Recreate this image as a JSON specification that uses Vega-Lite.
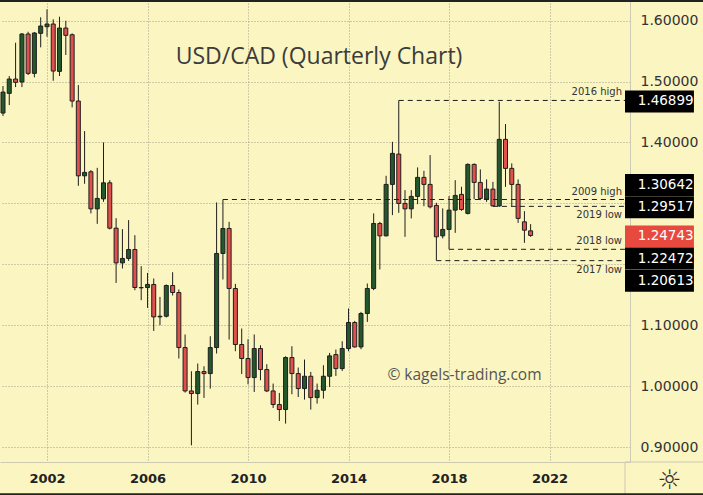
{
  "$schema": "https://vega.github.io/schema/vega-lite/v6.json",
  "width": 630,
  "height": 462,
  "autosize": {"type": "none"},
  "padding": {"left": 0, "top": 0, "right": 73, "bottom": 33},
  "background": "#fbf5c1",
  "config": {
    "view": {"stroke": null},
    "axis": {"grid": true, "gridColor": "#a39f8a", "gridDash": [1, 2], "gridWidth": 1, "ticks": false, "domainColor": "#cdc9b3", "domainWidth": 1},
    "text": {"font": "DejaVu Sans"}
  },
  "datasets": {
    "candles": [
      {"d": "2000-04-01", "o": 1.4483, "h": 1.4926, "l": 1.4434, "c": 1.4827},
      {"d": "2000-07-01", "o": 1.4806, "h": 1.5090, "l": 1.4614, "c": 1.5041},
      {"d": "2000-10-01", "o": 1.5041, "h": 1.5637, "l": 1.4909, "c": 1.4987},
      {"d": "2001-01-01", "o": 1.4992, "h": 1.5796, "l": 1.4909, "c": 1.5780},
      {"d": "2001-04-01", "o": 1.5780, "h": 1.5817, "l": 1.5107, "c": 1.5134},
      {"d": "2001-07-01", "o": 1.5134, "h": 1.5813, "l": 1.5069, "c": 1.5796},
      {"d": "2001-10-01", "o": 1.5791, "h": 1.6054, "l": 1.5561, "c": 1.5911},
      {"d": "2002-01-01", "o": 1.5900, "h": 1.6185, "l": 1.5735, "c": 1.5944},
      {"d": "2002-04-01", "o": 1.5944, "h": 1.6021, "l": 1.5013, "c": 1.5172},
      {"d": "2002-07-01", "o": 1.5167, "h": 1.6064, "l": 1.5090, "c": 1.5878},
      {"d": "2002-10-01", "o": 1.5878, "h": 1.5998, "l": 1.5435, "c": 1.5758},
      {"d": "2003-01-01", "o": 1.5768, "h": 1.5791, "l": 1.4576, "c": 1.4680},
      {"d": "2003-04-01", "o": 1.4680, "h": 1.4942, "l": 1.3289, "c": 1.3453},
      {"d": "2003-07-01", "o": 1.3453, "h": 1.4187, "l": 1.3322, "c": 1.3509},
      {"d": "2003-10-01", "o": 1.3519, "h": 1.3547, "l": 1.2836, "c": 1.2911},
      {"d": "2004-01-01", "o": 1.2911, "h": 1.3584, "l": 1.2665, "c": 1.3082},
      {"d": "2004-04-01", "o": 1.3075, "h": 1.4001, "l": 1.3026, "c": 1.3338},
      {"d": "2004-07-01", "o": 1.3338, "h": 1.3382, "l": 1.2573, "c": 1.2594},
      {"d": "2004-10-01", "o": 1.2594, "h": 1.2758, "l": 1.1696, "c": 1.2024},
      {"d": "2005-01-01", "o": 1.2024, "h": 1.2578, "l": 1.1932, "c": 1.2097},
      {"d": "2005-04-01", "o": 1.2097, "h": 1.2726, "l": 1.2057, "c": 1.2244},
      {"d": "2005-07-01", "o": 1.2244, "h": 1.2479, "l": 1.1576, "c": 1.1620},
      {"d": "2005-10-01", "o": 1.1620, "h": 1.1970, "l": 1.1412, "c": 1.1615},
      {"d": "2006-01-01", "o": 1.1620, "h": 1.1860, "l": 1.1286, "c": 1.1670},
      {"d": "2006-04-01", "o": 1.1670, "h": 1.1768, "l": 1.0908, "c": 1.1138},
      {"d": "2006-07-01", "o": 1.1138, "h": 1.1466, "l": 1.1001, "c": 1.1149},
      {"d": "2006-10-01", "o": 1.1149, "h": 1.1670, "l": 1.1128, "c": 1.1653},
      {"d": "2007-01-01", "o": 1.1653, "h": 1.1871, "l": 1.1489, "c": 1.1538},
      {"d": "2007-04-01", "o": 1.1538, "h": 1.1588, "l": 1.0455, "c": 1.0635},
      {"d": "2007-07-01", "o": 1.0635, "h": 1.0849, "l": 0.9896, "c": 0.9923},
      {"d": "2007-10-01", "o": 0.9923, "h": 1.0246, "l": 0.9031, "c": 0.9880},
      {"d": "2008-01-01", "o": 0.9880, "h": 1.0373, "l": 0.9699, "c": 1.0241},
      {"d": "2008-04-01", "o": 1.0241, "h": 1.0328, "l": 0.9808, "c": 1.0208},
      {"d": "2008-07-01", "o": 1.0208, "h": 1.0821, "l": 0.9962, "c": 1.0635},
      {"d": "2008-10-01", "o": 1.0635, "h": 1.3016, "l": 1.0537, "c": 1.2179},
      {"d": "2009-01-01", "o": 1.2179, "h": 1.30642, "l": 1.1752, "c": 1.2589},
      {"d": "2009-04-01", "o": 1.2589, "h": 1.2698, "l": 1.0766, "c": 1.1604},
      {"d": "2009-07-01", "o": 1.1604, "h": 1.1680, "l": 1.0575, "c": 1.0685},
      {"d": "2009-10-01", "o": 1.0685, "h": 1.0947, "l": 1.0200, "c": 1.0455},
      {"d": "2010-01-01", "o": 1.0455, "h": 1.0771, "l": 1.0033, "c": 1.0143},
      {"d": "2010-04-01", "o": 1.0143, "h": 1.0849, "l": 0.9906, "c": 1.0619},
      {"d": "2010-07-01", "o": 1.0619, "h": 1.0673, "l": 1.0098, "c": 1.0274},
      {"d": "2010-10-01", "o": 1.0274, "h": 1.0361, "l": 0.9906, "c": 0.9923},
      {"d": "2011-01-01", "o": 0.9923, "h": 1.0044, "l": 0.9644, "c": 0.9700},
      {"d": "2011-04-01", "o": 0.9700, "h": 0.9890, "l": 0.9430, "c": 0.9618},
      {"d": "2011-07-01", "o": 0.9618, "h": 1.0492, "l": 0.9387, "c": 1.0471},
      {"d": "2011-10-01", "o": 1.0471, "h": 1.0657, "l": 0.9869, "c": 1.0208},
      {"d": "2012-01-01", "o": 1.0208, "h": 1.0307, "l": 0.9824, "c": 0.9962},
      {"d": "2012-04-01", "o": 0.9962, "h": 1.0438, "l": 0.9781, "c": 1.0164},
      {"d": "2012-07-01", "o": 1.0164, "h": 1.0235, "l": 0.9617, "c": 0.9814},
      {"d": "2012-10-01", "o": 0.9814, "h": 1.0044, "l": 0.9715, "c": 0.9934},
      {"d": "2013-01-01", "o": 0.9934, "h": 1.0345, "l": 0.9798, "c": 1.0164},
      {"d": "2013-04-01", "o": 1.0164, "h": 1.0547, "l": 0.9988, "c": 1.0498},
      {"d": "2013-07-01", "o": 1.0520, "h": 1.0602, "l": 1.0169, "c": 1.0290},
      {"d": "2013-10-01", "o": 1.0290, "h": 1.0739, "l": 1.0251, "c": 1.0619},
      {"d": "2014-01-01", "o": 1.0619, "h": 1.1276, "l": 1.0575, "c": 1.1046},
      {"d": "2014-04-01", "o": 1.1046, "h": 1.1072, "l": 1.0635, "c": 1.0645},
      {"d": "2014-07-01", "o": 1.0645, "h": 1.1220, "l": 1.0608, "c": 1.1194},
      {"d": "2014-10-01", "o": 1.1194, "h": 1.1686, "l": 1.1056, "c": 1.1604},
      {"d": "2015-01-01", "o": 1.1604, "h": 1.2836, "l": 1.1576, "c": 1.2671},
      {"d": "2015-04-01", "o": 1.2671, "h": 1.2698, "l": 1.1916, "c": 1.2468},
      {"d": "2015-07-01", "o": 1.2468, "h": 1.3453, "l": 1.2460, "c": 1.3312},
      {"d": "2015-10-01", "o": 1.3312, "h": 1.4011, "l": 1.2808, "c": 1.3821},
      {"d": "2016-01-01", "o": 1.3809, "h": 1.46899, "l": 1.2846, "c": 1.3000},
      {"d": "2016-04-01", "o": 1.3000, "h": 1.3218, "l": 1.2452, "c": 1.2911},
      {"d": "2016-07-01", "o": 1.2911, "h": 1.3218, "l": 1.2754, "c": 1.3115},
      {"d": "2016-10-01", "o": 1.3115, "h": 1.3591, "l": 1.2988, "c": 1.3427},
      {"d": "2017-01-01", "o": 1.3427, "h": 1.3535, "l": 1.2955, "c": 1.3312},
      {"d": "2017-04-01", "o": 1.3312, "h": 1.3793, "l": 1.2918, "c": 1.2944},
      {"d": "2017-07-01", "o": 1.2967, "h": 1.3010, "l": 1.20613, "c": 1.2452},
      {"d": "2017-10-01", "o": 1.2468, "h": 1.2918, "l": 1.2425, "c": 1.2573},
      {"d": "2018-01-01", "o": 1.2573, "h": 1.3120, "l": 1.22472, "c": 1.2890},
      {"d": "2018-04-01", "o": 1.2890, "h": 1.3382, "l": 1.2517, "c": 1.3131},
      {"d": "2018-07-01", "o": 1.3148, "h": 1.3273, "l": 1.2878, "c": 1.2901},
      {"d": "2018-10-01", "o": 1.2836, "h": 1.3657, "l": 1.2819, "c": 1.3640},
      {"d": "2019-01-01", "o": 1.3640, "h": 1.3657, "l": 1.3070, "c": 1.3345},
      {"d": "2019-04-01", "o": 1.3345, "h": 1.3558, "l": 1.3054, "c": 1.3082},
      {"d": "2019-07-01", "o": 1.3070, "h": 1.3394, "l": 1.3026, "c": 1.3235},
      {"d": "2019-10-01", "o": 1.3235, "h": 1.3354, "l": 1.29517, "c": 1.2960},
      {"d": "2020-01-01", "o": 1.2960, "h": 1.4668, "l": 1.2944, "c": 1.4051},
      {"d": "2020-04-01", "o": 1.4051, "h": 1.4302, "l": 1.3272, "c": 1.3575},
      {"d": "2020-07-01", "o": 1.3575, "h": 1.3657, "l": 1.2955, "c": 1.3312},
      {"d": "2020-10-01", "o": 1.3312, "h": 1.3394, "l": 1.2681, "c": 1.2754},
      {"d": "2021-01-01", "o": 1.2698, "h": 1.2873, "l": 1.2353, "c": 1.2561},
      {"d": "2021-04-01", "o": 1.2550, "h": 1.2660, "l": 1.2452, "c": 1.24743}
    ],
    "levels": [
      {"label": "2016 high", "price": 1.46899, "start": "2016-01-01", "place": "above"},
      {"label": "2009 high", "price": 1.30642, "start": "2009-01-01", "place": "above"},
      {"label": "2019 low", "price": 1.29517, "start": "2019-10-01", "place": "below"},
      {"label": "2018 low", "price": 1.22472, "start": "2018-01-01", "place": "above"},
      {"label": "2017 low", "price": 1.20613, "start": "2017-07-01", "place": "below"}
    ],
    "tags": [
      {"label": "1.46899", "price": 1.46899, "kind": "level"},
      {"label": "1.30642", "price": 1.30642, "kind": "level"},
      {"label": "1.29517", "price": 1.29517, "kind": "level"},
      {"label": "1.24743", "price": 1.24743, "kind": "last"},
      {"label": "1.22472", "price": 1.22472, "kind": "level"},
      {"label": "1.20613", "price": 1.20613, "kind": "level"}
    ]
  },
  "layer": [
    {
      "data": {"name": "candles"},
      "mark": {"type": "rule", "color": "#1e1e1e", "strokeWidth": 1, "clip": true},
      "encoding": {
        "x": {
          "field": "d", "type": "temporal", "title": null,
          "scale": {"type": "utc", "domain": [{"year": 2000, "month": 4, "date": 30, "utc": true}, {"year": 2025, "month": 1, "date": 2, "utc": true}]},
          "axis": {
            "values": [{"year": 2002, "utc": true}, {"year": 2006, "utc": true}, {"year": 2010, "utc": true}, {"year": 2014, "utc": true}, {"year": 2018, "utc": true}, {"year": 2022, "utc": true}],
            "labelExpr": "utcFormat(datum.value, '%Y')",
            "labelFont": "DejaVu Sans", "labelFontWeight": "bold", "labelFontSize": 13, "labelColor": "#222222",
            "labelBaseline": "middle", "labelPadding": 16, "labelFlush": false, "title": null
          }
        },
        "y": {
          "field": "l", "type": "quantitative", "title": null,
          "scale": {"domain": [0.8757, 1.6338], "zero": false, "nice": false},
          "axis": {
            "orient": "right",
            "values": [0.9, 1.0, 1.1, 1.2, 1.3, 1.4, 1.5, 1.6],
            "labelExpr": "(abs(datum.value - 1.2) < 0.001 || abs(datum.value - 1.3) < 0.001) ? '' : format(datum.value, '.5f')",
            "labelFont": "DejaVu Sans", "labelFontSize": 14, "labelColor": "#333333",
            "labelPadding": 10, "labelBaseline": "middle", "labelFlush": false, "title": null
          }
        },
        "y2": {"field": "h"}
      }
    },
    {
      "data": {"name": "candles"},
      "mark": {"type": "bar", "size": 4, "stroke": "#1e1e1e", "strokeWidth": 1, "clip": true},
      "encoding": {
        "x": {"field": "d", "type": "temporal", "title": null},
        "y": {"field": "o", "type": "quantitative", "title": null},
        "y2": {"field": "c"},
        "fill": {"condition": {"test": "datum.c >= datum.o", "value": "#22582b"}, "value": "#e0514e"}
      }
    },
    {
      "data": {"name": "levels"},
      "mark": {"type": "rule", "strokeDash": [5, 4], "color": "#1e1e1e", "strokeWidth": 1},
      "encoding": {
        "x": {"field": "start", "type": "temporal", "title": null},
        "x2": {"datum": {"year": 2025, "month": 1, "date": 2, "utc": true}},
        "y": {"field": "price", "type": "quantitative", "title": null}
      }
    },
    {
      "data": {"name": "levels"},
      "transform": [{"filter": "datum.place == 'above'"}],
      "mark": {"type": "text", "align": "right", "baseline": "middle", "dy": -8, "fontSize": 10, "color": "#333333"},
      "encoding": {
        "x": {"datum": {"year": 2024, "month": 11, "date": 20, "utc": true}, "type": "temporal"},
        "y": {"field": "price", "type": "quantitative", "title": null},
        "text": {"field": "label"}
      }
    },
    {
      "data": {"name": "levels"},
      "transform": [{"filter": "datum.place == 'below'"}],
      "mark": {"type": "text", "align": "right", "baseline": "middle", "dy": 9, "fontSize": 10, "color": "#333333"},
      "encoding": {
        "x": {"datum": {"year": 2024, "month": 11, "date": 20, "utc": true}, "type": "temporal"},
        "y": {"field": "price", "type": "quantitative", "title": null},
        "text": {"field": "label"}
      }
    },
    {
      "data": {"values": [{}]},
      "mark": {"type": "rule", "color": "#cdc9b3", "strokeWidth": 1, "clip": false},
      "encoding": {
        "x": {"datum": {"year": 2025, "month": 1, "date": 2, "utc": true}, "type": "temporal"},
        "y": {"datum": 0.8757, "type": "quantitative"},
        "y2": {"datum": 0.80}
      }
    },
    {
      "data": {"values": [{}]},
      "mark": {"type": "rule", "color": "#cdc9b3", "strokeWidth": 1, "clip": false},
      "encoding": {
        "x": {"datum": {"year": 2025, "month": 1, "date": 2, "utc": true}, "type": "temporal"},
        "x2": {"datum": {"year": 2028, "month": 6, "date": 1, "utc": true}},
        "y": {"datum": 0.8757, "type": "quantitative"}
      }
    },
    {
      "data": {"values": [{"edge": 1.6338}, {"edge": 0.8210}]},
      "mark": {"type": "rule", "color": "#222222", "strokeWidth": 4, "clip": false},
      "encoding": {
        "x": {"datum": {"year": 1999, "month": 1, "date": 1, "utc": true}, "type": "temporal"},
        "x2": {"datum": {"year": 2028, "month": 6, "date": 1, "utc": true}},
        "y": {"field": "edge", "type": "quantitative", "title": null}
      }
    },
    {
      "data": {"name": "tags"},
      "mark": {"type": "rule", "strokeWidth": 22, "strokeCap": "butt", "clip": false,
        "yOffset": {"expr": "datum.label == '1.30642' ? -14.4 : datum.label == '1.22472' ? 9.3 : datum.label == '1.20613' ? 20.2 : 1"}},
      "encoding": {
        "x": {"datum": {"year": 2025, "month": 1, "date": 2, "utc": true}, "type": "temporal"},
        "x2": {"datum": {"year": 2027, "month": 10, "date": 1, "utc": true}},
        "y": {"field": "price", "type": "quantitative", "title": null},
        "color": {"condition": {"test": "datum.kind == 'last'", "value": "#e8493f"}, "value": "#000000"}
      }
    },
    {
      "data": {"name": "tags"},
      "mark": {"type": "text", "align": "left", "baseline": "middle", "fontSize": 13.5, "color": "#ffffff", "clip": false,
        "yOffset": {"expr": "datum.label == '1.30642' ? -14.4 : datum.label == '1.22472' ? 9.3 : datum.label == '1.20613' ? 20.2 : 1"}},
      "encoding": {
        "x": {"datum": {"year": 2025, "month": 7, "date": 7, "utc": true}, "type": "temporal"},
        "y": {"field": "price", "type": "quantitative", "title": null},
        "text": {"field": "label"}
      }
    },
    {
      "data": {"values": [{"t": "USD/CAD (Quarterly Chart)"}]},
      "mark": {"type": "text", "font": "Open Sans", "fontSize": 23, "color": "#3c3c3c", "align": "center", "baseline": "middle"},
      "encoding": {
        "x": {"datum": {"year": 2012, "month": 10, "date": 29, "utc": true}, "type": "temporal"},
        "y": {"datum": 1.5402, "type": "quantitative"},
        "text": {"field": "t"}
      }
    },
    {
      "data": {"values": [{"t": "© kagels-trading.com"}]},
      "mark": {"type": "text", "font": "Open Sans", "fontSize": 15.5, "color": "#555555", "align": "center", "baseline": "middle"},
      "encoding": {
        "x": {"datum": {"year": 2018, "month": 8, "date": 13, "utc": true}, "type": "temporal"},
        "y": {"datum": 1.0180, "type": "quantitative"},
        "text": {"field": "t"}
      }
    },
    {
      "data": {"values": [{"t": "☼"}]},
      "mark": {"type": "text", "fontSize": 27, "color": "#333333", "align": "center", "baseline": "middle", "clip": false},
      "encoding": {
        "x": {"datum": {"year": 2026, "month": 10, "date": 10, "utc": true}, "type": "temporal"},
        "y": {"datum": 0.8450, "type": "quantitative"},
        "text": {"field": "t"}
      }
    }
  ]
}
